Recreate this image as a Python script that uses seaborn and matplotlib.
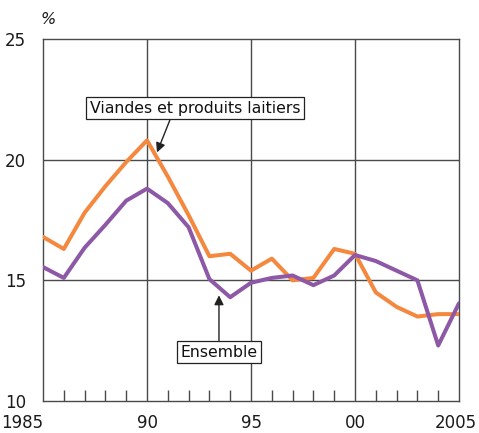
import matplotlib
matplotlib.use("Agg")
import matplotlib.pyplot as plt
import matplotlib.transforms as mtrans
import seaborn as sns
import pandas as pd

years = list(range(1985, 2006))
viandes = [16.8, 16.3, 17.8, 18.9, 19.9, 20.8, 19.3, 17.7, 16.0, 16.1, 15.4, 15.9, 15.0, 15.1, 16.3, 16.1, 14.5, 13.9, 13.5, 13.6, 13.6]
ensemble = [15.55, 15.1, 16.35, 17.3, 18.3, 18.8, 18.2, 17.2, 15.05, 14.3, 14.9, 15.1, 15.2, 14.8, 15.2, 16.05, 15.8, 15.4, 15.0, 12.3, 14.05]
xtick_vals = [1985, 1990, 1995, 2000, 2005]
xtick_labels = ["1985", "90", "95", "00", "2005"]
ytick_vals = [10, 15, 20, 25]
label_viandes = "Viandes et produits laitiers"
label_ensemble = "Ensemble"

sns.set_style("white")
plt.rcParams['font.family'] = ['DejaVu Sans']

df = pd.DataFrame({"annee": years * 2,
                   "valeur": viandes + ensemble,
                   "serie": [label_viandes] * len(years) + [label_ensemble] * len(years)})

fig = plt.figure(figsize=(4.79, 4.33), dpi=100)
ax = fig.add_axes([43/479, 1 - 401/433, 416/479, 362/433])

grid_c = "#4a4a4a"
for x in [1990, 1995, 2000]:
    ax.axvline(x, color=grid_c, lw=1.0, zorder=1)
for y in [15, 20]:
    ax.axhline(y, color=grid_c, lw=1.0, zorder=1)

sns.lineplot(data=df, x="annee", y="valeur", hue="serie",
             palette={label_viandes: "#F5883F", label_ensemble: "#8D58A6"},
             linewidth=2.9, legend=False, ax=ax, zorder=3)

ax.set_xlim(1985, 2005)
ax.set_ylim(10, 25)
ax.set_xticks(xtick_vals)
ax.set_xticklabels(xtick_labels)
ax.set_xticks(years, minor=True)
ax.set_yticks(ytick_vals)
ax.tick_params(axis="x", which="minor", direction="in", length=8, width=1, color=grid_c, bottom=True)
ax.tick_params(axis="x", which="major", direction="in", length=0, pad=9, labelsize=12, labelcolor="#1a1a1a")
ax.tick_params(axis="y", which="major", length=0, pad=12, labelsize=12, labelcolor="#1a1a1a")
labs = ax.get_xticklabels()
labs[0].set_ha("right")
labs[-1].set_ha("right")
labs[-1].set_transform(labs[-1].get_transform() + mtrans.ScaledTranslation(18/100, 0, fig.dpi_scale_trans))
ax.set_xlabel("")
ax.set_ylabel("")
for s in ax.spines.values():
    s.set_color(grid_c)
    s.set_linewidth(1.0)

ax.text(-0.005, 1.055, "%", transform=ax.transAxes, fontsize=11.5, style="italic", ha="left", va="center", color="#1a1a1a")

bbox = dict(boxstyle="square,pad=0.22", fc="white", ec="#222222", lw=0.9)
ax.annotate(label_viandes, xy=(1990.48, 20.3), xytext=(1992.3, 22.14),
            fontsize=11.3, ha="center", va="center", bbox=bbox, color="#111111",
            arrowprops=dict(arrowstyle="-|>", color="#222222", lw=1.0, mutation_scale=14,
                            shrinkA=0, shrinkB=0, relpos=(0.39, 0)), zorder=5)
ax.annotate(label_ensemble, xy=(1993.46, 14.38), xytext=(1993.46, 12.03),
            fontsize=11.3, ha="center", va="center", bbox=bbox, color="#111111",
            arrowprops=dict(arrowstyle="-|>", color="#222222", lw=1.0, mutation_scale=14,
                            shrinkA=0, shrinkB=0, relpos=(0.5, 1)), zorder=5)

fig.savefig("out.png", dpi=100)
